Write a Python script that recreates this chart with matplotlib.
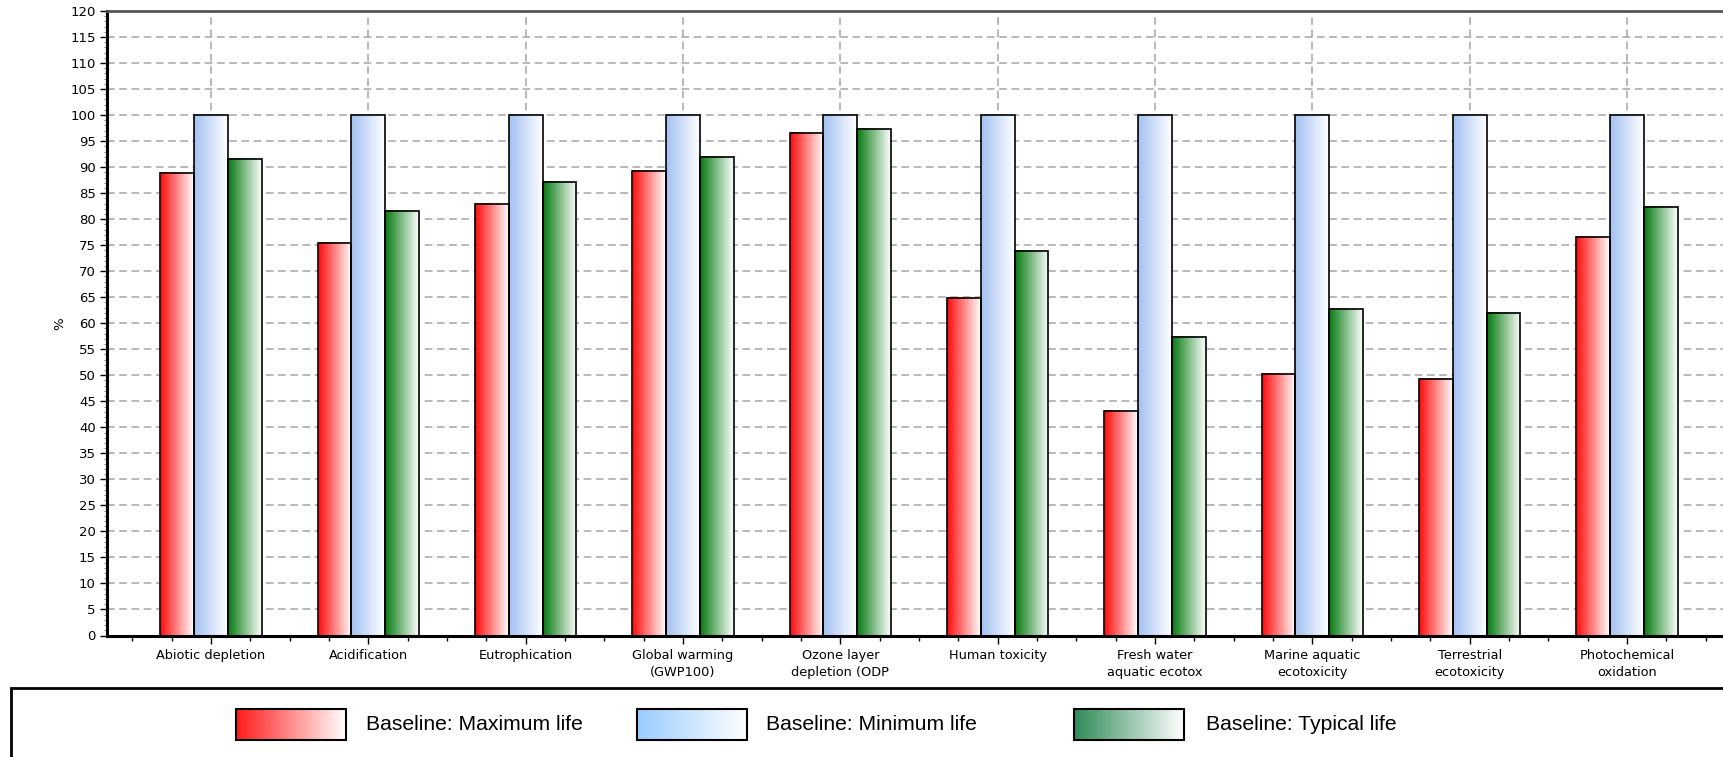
import numpy as np
import matplotlib
matplotlib.use("Agg")
import matplotlib.pyplot as plt
from matplotlib.colors import LinearSegmentedColormap
from matplotlib.patches import Rectangle
from matplotlib.ticker import MultipleLocator

# impact categories (x axis)
categories = [
    "Abiotic depletion", "Acidification", "Eutrophication",
    "Global warming\n(GWP100)", "Ozone layer\ndepletion (ODP",
    "Human toxicity", "Fresh water\naquatic ecotox",
    "Marine aquatic\necotoxicity", "Terrestrial\necotoxicity",
    "Photochemical\noxidation",
]

series_names = ["Baseline: Maximum life", "Baseline: Minimum life", "Baseline: Typical life"]

# values in % (Minimum life = 100 reference)
max_life = [88.9, 75.4, 83.0, 89.2, 96.5, 64.8, 43.2, 50.3, 49.2, 76.5]
min_life = [100, 100, 100, 100, 100, 100, 100, 100, 100, 100]
typ_life = [91.5, 81.5, 87.2, 91.9, 97.3, 73.8, 57.3, 62.7, 61.9, 82.4]

bar_colors = ["#ff0a0a", "#a3c1f2", "#057a0f"]
legend_colors = ["#ff1a1a", "#99ccff", "#2e8b57"]

W, H = 1724, 757
fig = plt.figure(figsize=(W / 100, H / 100), dpi=100)
plt.rcParams['font.family'] = ['DejaVu Sans']

# axes extends a little past the right edge like the original screenshot
ax = fig.add_axes([107 / W, 121.5 / H, 1624 / W, 624.5 / H])

x = np.arange(len(categories))
bw = 0.214
grad = np.linspace(0, 1, 256).reshape(1, -1)

for i, (vals, col) in enumerate(zip([max_life, min_life, typ_life], bar_colors)):
    bars = ax.bar(x + (i - 1) * bw, vals, width=bw, facecolor="none",
                  edgecolor="black", linewidth=1.2, zorder=3)
    cmap = LinearSegmentedColormap.from_list("g%d" % i, [col, "white"])
    for b in bars:
        x0, w, h = b.get_x(), b.get_width(), b.get_height()
        ax.imshow(grad, cmap=cmap, aspect="auto", extent=[x0, x0 + w, 0, h],
                  zorder=2, interpolation="bilinear")

ax.set_xlim(-0.661, len(categories) - 1 + 0.661)
ax.set_ylim(0, 120)

ax.yaxis.set_major_locator(MultipleLocator(5))
ax.yaxis.set_minor_locator(MultipleLocator(1))
ax.set_xticks(x)
ax.set_xticklabels(categories, fontsize=9.3, linespacing=1.4)
ax.xaxis.set_minor_locator(MultipleLocator(0.25))
ax.tick_params(axis="y", which="major", labelsize=9.5, length=5, width=1, pad=3)
ax.tick_params(axis="y", which="minor", length=2.5, width=0.8, color="#888888")
ax.tick_params(axis="x", which="major", length=6, width=1, pad=4)
ax.tick_params(axis="x", which="minor", length=3.5, width=1)

ax.grid(True, which="major", linestyle=(0, (5, 3)), color="#a5a5a5", linewidth=1.1, zorder=0)
ax.set_axisbelow(True)

ax.spines["left"].set_linewidth(2.2)
ax.spines["left"].set_color("black")
ax.spines["bottom"].set_linewidth(2.2)
ax.spines["bottom"].set_color("black")
ax.spines["top"].set_linewidth(2)
ax.spines["top"].set_color("#555555")
ax.spines["right"].set_visible(False)

ax.set_ylabel("%", fontsize=9.5, labelpad=3)

# legend box drawn in pixel coordinates
lg = fig.add_axes([0, 0, 1, 1], zorder=5)
lg.set_xlim(0, W)
lg.set_ylim(H, 0)
lg.axis("off")
lg.add_patch(Rectangle((11, 688), W + 20, 100, facecolor="white",
                       edgecolor="black", linewidth=2))
patch_x = [236, 637, 1074]
text_x = [366, 766, 1206]
for name, col, px, tx in zip(series_names, legend_colors, patch_x, text_x):
    cmap = LinearSegmentedColormap.from_list("l" + name, [col, "white"])
    lg.imshow(grad, cmap=cmap, aspect="auto", extent=[px, px + 110, 740, 709],
              zorder=6, interpolation="bilinear")
    lg.add_patch(Rectangle((px, 709), 110, 31, facecolor="none",
                           edgecolor="black", linewidth=1.5, zorder=7))
    lg.text(tx, 725, name, fontsize=15.2, family="Liberation Sans",
            va="center", ha="left", zorder=7)
lg.set_xlim(0, W)
lg.set_ylim(H, 0)

fig.savefig("out.png", dpi=100)
